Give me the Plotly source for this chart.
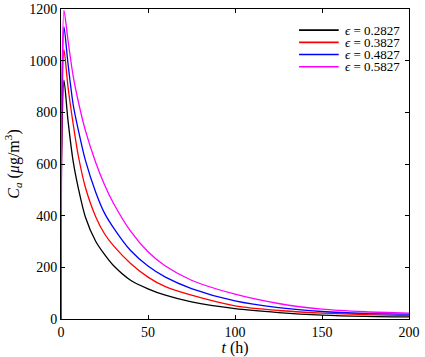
import plotly.graph_objects as go

t_h = [0, 0.4, 1.7, 4, 7, 10, 14, 20, 25, 30, 40, 50, 60, 75, 100, 125, 150, 175, 200]
ca_02827 = [0, 650, 925, 770, 610, 505, 395, 300, 250, 208, 150, 117, 92, 66, 40, 25, 15, 10, 8]
ca_03827 = [0, 720, 1043, 900, 755, 630, 510, 395, 330, 285, 215, 162, 125, 92, 51, 33, 23, 17, 13]
ca_04827 = [0, 780, 1131, 990, 830, 730, 615, 490, 410, 355, 265, 205, 162, 118, 70, 44, 29, 22, 19]
ca_05827 = [0, 820, 1195, 1080, 940, 840, 730, 605, 520, 450, 340, 260, 205, 150, 96, 60, 38, 28, 23]
eps_labels = ["0.2827", "0.3827", "0.4827", "0.5827"]

series = [
    (eps_labels[0], ca_02827, "#000000"),
    (eps_labels[1], ca_03827, "#ff0000"),
    (eps_labels[2], ca_04827, "#0000ff"),
    (eps_labels[3], ca_05827, "#ff00ff"),
]

FONT = "Liberation Serif, Times New Roman, serif"

fig = go.Figure()
for eps, vals, col in series:
    fig.add_trace(go.Scatter(
        x=t_h, y=vals, mode="lines",
        line=dict(color=col, width=1.3, shape="spline", smoothing=0.8),
        name="<i>ϵ</i> = " + eps, showlegend=False,
    ))

# compact legend (line samples + labels) in paper coordinates
leg_x0, leg_x1, leg_tx = 0.684, 0.798, 0.810
leg_y0, leg_dy = 0.932, 0.0395
for i, (eps, vals, col) in enumerate(series):
    yy = leg_y0 - i * leg_dy
    fig.add_shape(type="line", xref="paper", yref="paper",
                  x0=leg_x0, x1=leg_x1, y0=yy, y1=yy,
                  line=dict(color=col, width=1.6))
    fig.add_annotation(xref="paper", yref="paper", x=leg_tx, y=yy,
                       xanchor="left", yanchor="middle", showarrow=False,
                       text="<i>ϵ</i> = " + eps,
                       font=dict(family=FONT, size=13, color="black"))

axis_common = dict(
    showline=True, linecolor="black", linewidth=1, mirror="ticks",
    ticks="inside", ticklen=4, tickcolor="black", tickwidth=1,
    showgrid=False, zeroline=False, automargin=False,
    tickfont=dict(family=FONT, size=14, color="black"),
)

fig.update_layout(
    width=425, height=357,
    margin=dict(l=61, r=16, t=9, b=38, autoexpand=False),
    paper_bgcolor="white", plot_bgcolor="white",
    font=dict(family=FONT, size=14, color="black"),
    xaxis=dict(range=[0, 200], tickvals=[0, 50, 100, 150, 200],
               title=dict(text="<i>t</i> (h)", standoff=1,
                          font=dict(family=FONT, size=16)),
               **axis_common),
    yaxis=dict(range=[0, 1200], tickvals=[0, 200, 400, 600, 800, 1000, 1200],
               title=dict(text="<i>C</i><sub><i>a</i></sub> (<i>μ</i>g/m<sup>3</sup>)",
                          standoff=5, font=dict(family=FONT, size=16)),
               **axis_common),
    showlegend=False,
)

fig.write_html("out.html", config={"displayModeBar": False},
               post_script="document.body.style.margin='0';document.body.style.overflow='hidden';")
